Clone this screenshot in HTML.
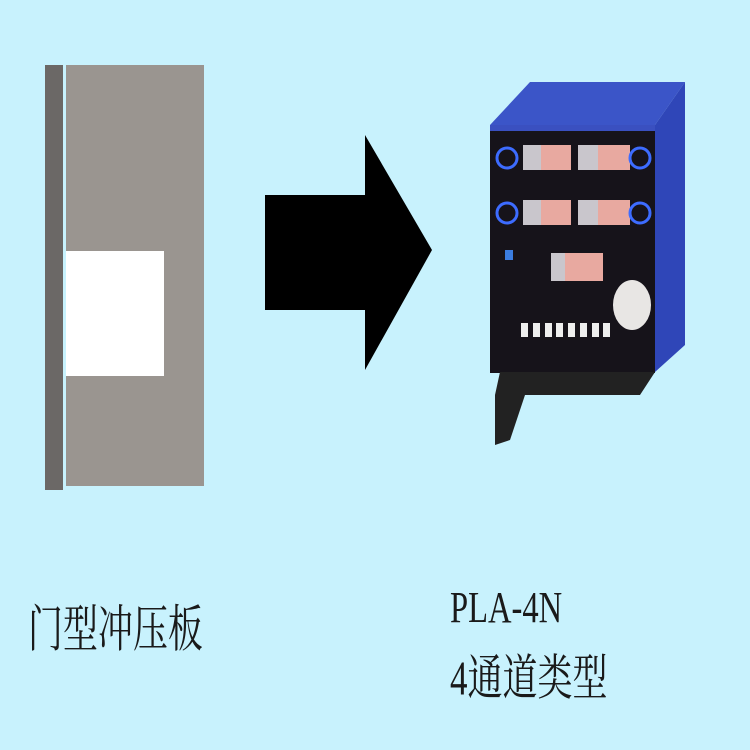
<!DOCTYPE html>
<html><head><meta charset="utf-8"><style>
html,body{margin:0;padding:0;}
body{width:750px;height:750px;background:#c8f2fd;position:relative;overflow:hidden;}
.t{position:absolute;font-family:"Liberation Serif","Noto Serif CJK SC",serif;color:#1a1a1a;white-space:nowrap;}
</style></head><body>
<svg width="750" height="750" style="position:absolute;left:0;top:0">
  <rect x="45" y="65" width="18" height="425" fill="#6b6866"/>
  <rect x="66" y="65" width="138" height="421" fill="#9a9590"/>
  <rect x="66" y="251" width="98" height="125" fill="#ffffff"/>
  <polygon points="265,195 365,195 365,135 432,250 365,370 365,310 265,310" fill="#000"/>
  <polygon points="490,125 530,82 685,82 655,125" fill="#3b55c8"/>
  <polygon points="655,125 685,82 685,345 655,372" fill="#2f46b8"/>
  <rect x="490" y="125" width="165" height="248" fill="#16131a"/>
  <rect x="490" y="125" width="165" height="6" fill="#3a50c0"/>
  <g fill="#e8a9a0">
    <rect x="523" y="145" width="48" height="25"/><rect x="578" y="145" width="52" height="25"/>
    <rect x="523" y="200" width="48" height="25"/><rect x="578" y="200" width="52" height="25"/>
    <rect x="551" y="253" width="52" height="28"/>
  </g>
  <g fill="#c9c6cc">
    <rect x="523" y="145" width="18" height="25"/><rect x="578" y="145" width="20" height="25"/>
    <rect x="523" y="200" width="18" height="25"/><rect x="578" y="200" width="20" height="25"/>
    <rect x="551" y="253" width="14" height="28"/>
  </g>
  <g fill="none" stroke="#3d6cff" stroke-width="3">
    <circle cx="507" cy="158" r="10"/><circle cx="640" cy="158" r="10"/>
    <circle cx="507" cy="213" r="10"/><circle cx="640" cy="213" r="10"/>
  </g>
  <rect x="505" y="250" width="8" height="10" fill="#3b7de0"/>
  <ellipse cx="632" cy="305" rx="19" ry="25" fill="#e8e6e4"/>
  <g fill="#eeeeee">
    <rect x="521" y="323" width="7" height="14"/><rect x="533" y="323" width="7" height="14"/>
    <rect x="545" y="323" width="7" height="14"/><rect x="556" y="323" width="7" height="14"/>
    <rect x="568" y="323" width="7" height="14"/><rect x="580" y="323" width="7" height="14"/>
    <rect x="592" y="323" width="7" height="14"/><rect x="603" y="323" width="7" height="14"/>
  </g>
  <polygon points="500,372 655,372 640,395 525,395 510,440 495,445 495,395" fill="#222"/>
</svg>
<div class="t" style="left:28px;top:590px;font-size:35px;transform:scaleY(1.45);transform-origin:0 0;">门型冲压板</div>
<div class="t" style="left:450px;top:582px;font-size:44px;transform:scaleX(0.74);transform-origin:0 0;">PLA-4N</div>
<div class="t" style="left:450px;top:640px;font-size:35px;transform:scaleY(1.4);transform-origin:0 0;">4通道类型</div>
</body></html>
